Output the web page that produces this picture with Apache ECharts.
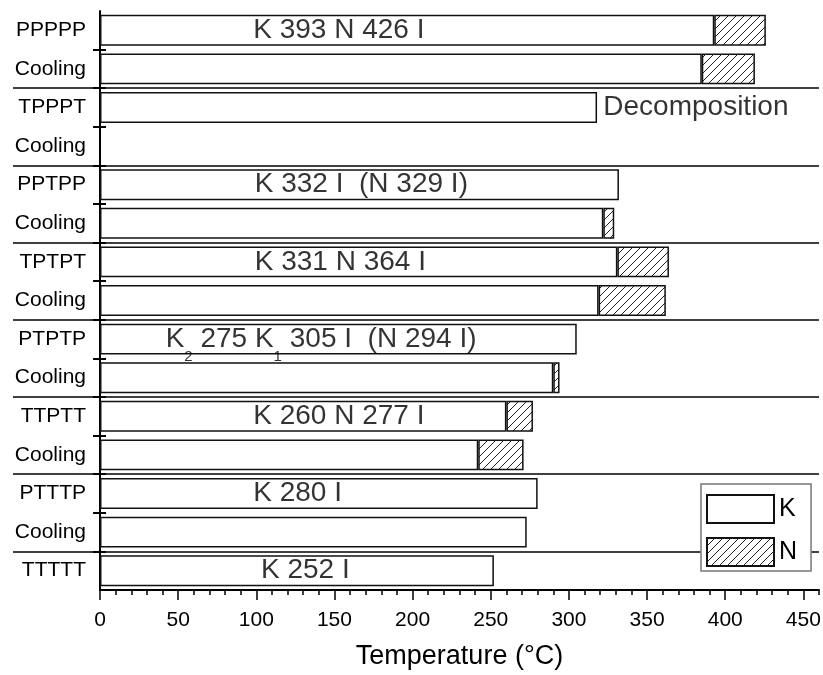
<!DOCTYPE html>
<html>
<head>
<meta charset="utf-8">
<script src="https://cdn.jsdelivr.net/npm/echarts@6/dist/echarts.min.js"></script>
<style>
html,body{margin:0;padding:0;background:#fff;}
#chart{width:823px;height:675px;}
</style>
</head>
<body>
<div id="chart"></div>
<script>
// ---- data ----
const categories = ['PPPPP','Cooling','TPPPT','Cooling','PPTPP','Cooling','TPTPT','Cooling','PTPTP','Cooling','TTPTT','Cooling','PTTTP','Cooling','TTTTT'];
// end of K (crystal) range, °C
const kEnd = [393, 385, 318, null, 332, 322, 331, 319, 305, 290, 260, 242, 280, 273, 252];
// end of N (nematic) range, °C
const nEnd = [426, 419, null, null, null, 329, 364, 362, null, 294, 277, 271, null, null, null];
// annotations: text, start temperature, row
const annText = ['{a|K 393 N 426 I}', '{a|Decomposition}', '{a|K 332 I  (N 329 I)}', '{a|K 331 N 364 I}',
  '{b|K}{s|2}{b| 275 K}{s|1}{b| 305 I  (N 294 I)}', '{a|K 260 N 277 I}', '{a|K 280 I}', '{a|K 252 I}'];
const annX = [98, 322, 99, 99, 42, 98, 98, 103];
const annRow = ['PPPPP', 'TPPPT', 'PPTPP', 'TPTPT', 'PTPTP', 'TTPTT', 'PTTTP', 'TTTTT'];
const xTicksMajor = 50, xTicksMinor = 10, xMin = 0, xMax = 460;

// ---- build ----
const FONT = '"Liberation Sans", Arial, sans-serif';
const nLen = nEnd.map((v, i) => (v == null || kEnd[i] == null) ? null : v - kEnd[i]);
// row boundaries (axis scaffolding for the boundary ticks)
const boundaries = Array.from({ length: categories.length + 1 }, (_, i) => 'b' + i);
const inner = (i) => i > 0 && i < categories.length;
const groupBoundary = (i) => i > 0 && i < categories.length && i % 2 === 0;

function hatch() {
  const c = document.createElement('canvas');
  const s = 8;
  c.width = s; c.height = s;
  const ctx = c.getContext('2d');
  ctx.fillStyle = '#fff';
  ctx.fillRect(0, 0, s, s);
  ctx.strokeStyle = '#222';
  ctx.lineWidth = 1;
  ctx.beginPath();
  ctx.moveTo(0, s); ctx.lineTo(s, 0);
  ctx.moveTo(-2, 2); ctx.lineTo(2, -2);
  ctx.moveTo(s - 2, s + 2); ctx.lineTo(s + 2, s - 2);
  ctx.stroke();
  return c;
}

const bBase = { type: 'category', data: boundaries, boundaryGap: false, inverse: true, gridIndex: 0, position: 'left', offset: 0,
  axisLine: { show: false }, axisLabel: { show: false }, splitLine: { show: false } };

const chart = echarts.init(document.getElementById('chart'), null, { renderer: 'canvas' });
chart.setOption({
  animation: false,
  backgroundColor: '#fff',
  grid: { left: 100, right: 4, top: 11, bottom: 85, containLabel: false, outerBoundsMode: 'none' },
  legend: {
    data: ['K', 'N'], orient: 'vertical', left: 701, top: 484,
    itemWidth: 67, itemHeight: 28, itemGap: 13,
    padding: [10, 14, 4, 5],
    borderColor: '#777', borderWidth: 1.5, backgroundColor: '#fff',
    icon: 'rect',
    textStyle: { fontSize: 25, color: '#000', fontFamily: FONT }
  },
  xAxis: [
    { type: 'value', min: xMin, max: xMax, interval: xTicksMinor, position: 'bottom', offset: 0,
      axisLine: { show: true, lineStyle: { color: '#000', width: 2 } },
      axisTick: { show: true, inside: false, length: 5, lineStyle: { color: '#000', width: 1.5 } },
      axisLabel: { show: false }, splitLine: { show: false } },
    { type: 'value', min: xMin, max: xMax, interval: xTicksMajor, position: 'bottom', offset: 0,
      axisLine: { show: false },
      axisTick: { show: true, inside: false, length: 10, lineStyle: { color: '#000', width: 1.5 } },
      axisLabel: { fontSize: 21, color: '#000', margin: 20, fontFamily: FONT, showMaxLabel: false },
      splitLine: { show: false },
      name: 'Temperature (°C)', nameLocation: 'middle', nameGap: 53,
      nameTextStyle: { fontSize: 27, color: '#000', fontFamily: FONT } }
  ],
  yAxis: [
    { type: 'category', data: categories, inverse: true, gridIndex: 0, position: 'left', offset: 0,
      axisLine: { show: true, lineStyle: { color: '#000', width: 2 } },
      axisLabel: { fontSize: 21, color: '#000', margin: 14, fontFamily: FONT, interval: 0 },
      axisTick: { show: false },
      splitLine: { show: true, interval: (i) => i > 0 && i % 2 === 0, lineStyle: { color: '#000', width: 1.5 } } },
    Object.assign({}, bBase, {
      axisTick: { show: true, interval: inner, length: 7, lineStyle: { color: '#000', width: 2 } } }),
    Object.assign({}, bBase, {
      axisTick: { show: true, interval: inner, inside: true, length: 6, lineStyle: { color: '#000', width: 2 } } }),
    Object.assign({}, bBase, {
      axisTick: { show: true, interval: groupBoundary, length: 87, lineStyle: { color: '#000', width: 1.5 } } })
  ],
  series: [
    { name: 'K', type: 'bar', stack: 't', data: kEnd, barWidth: '80%',
      itemStyle: { color: '#fff', borderColor: '#111', borderWidth: 1.5 } },
    { name: 'N', type: 'bar', stack: 't', data: nLen, barWidth: '80%',
      itemStyle: { color: { image: hatch(), repeat: 'repeat' }, borderColor: '#111', borderWidth: 1.5 } },
    { name: 'ann', type: 'scatter', symbolSize: 0, silent: true, z: 5,
      data: annX.map((x, i) => [x, annRow[i]]),
      label: {
        show: true, position: 'right', distance: 0, color: '#000',
        formatter: (p) => annText[p.dataIndex],
        rich: {
          a: { fontSize: 28, lineHeight: 30, color: '#000', fontFamily: FONT },
          b: { fontSize: 28, lineHeight: 50, color: '#000', fontFamily: FONT },
          s: { fontSize: 15, lineHeight: 15, color: '#000', fontFamily: FONT, verticalAlign: 'bottom' }
        }
      } }
  ]
});
</script>
</body>
</html>
